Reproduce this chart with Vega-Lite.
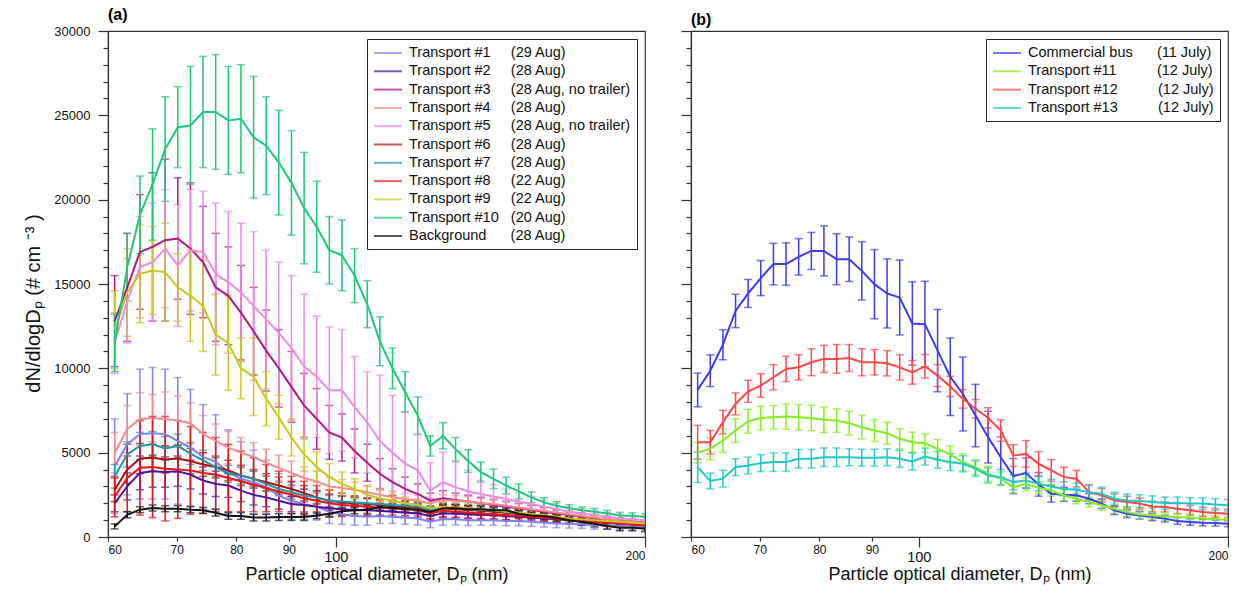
{
"$schema": "https://vega.github.io/schema/vega-lite/v6.json",
"padding": {"left": 23, "top": 6, "right": 0, "bottom": 0},
"config": {
  "font": "Liberation Sans",
  "view": {"stroke": "#333", "strokeWidth": 1.2},
  "axis": {"domainColor": "#333", "tickColor": "#333", "labelColor": "#111", "titleColor": "#111", "grid": false, "titleFontWeight": "normal", "labelFont": "Liberation Sans", "titleFont": "Liberation Sans", "domainWidth": 1.2, "tickWidth": 1.2},
  "legend": {"title": null, "orient": "top-right", "offset": 8, "fillColor": "white", "strokeColor": "#222", "padding": 6, "labelFontSize": 14.5, "labelFont": "Liberation Sans", "labelColor": "#111", "symbolType": "M-1,0L3,0", "symbolSize": 196, "symbolStrokeWidth": 2, "rowPadding": 3.3, "labelOffset": 20, "labelLimit": 400}
},
"spacing": 46,
"bounds": "flush",
"resolve": {"scale": {"color": "independent"}, "legend": {"color": "independent"}},
"datasets": {
"a": [
{"s":"T1","d":60.9,"v":4200,"e":2800},{"s":"T1","d":62.65,"v":5500,"e":3000},{"s":"T1","d":64.45,"v":6100,"e":3850},{"s":"T1","d":66.3,"v":6150,"e":3900},{"s":"T1","d":68.2,"v":6100,"e":3850},{"s":"T1","d":70.16,"v":5700,"e":3750},{"s":"T1","d":72.18,"v":5300,"e":3450},{"s":"T1","d":74.25,"v":4750,"e":3100},{"s":"T1","d":76.38,"v":4450,"e":2800},{"s":"T1","d":78.58,"v":3850,"e":2500},{"s":"T1","d":80.83,"v":3450,"e":2200},{"s":"T1","d":83.16,"v":3250,"e":1900},{"s":"T1","d":85.54,"v":2950,"e":1600},{"s":"T1","d":88,"v":2450,"e":1300},{"s":"T1","d":90.53,"v":2150,"e":1100},{"s":"T1","d":93.13,"v":1950,"e":900},{"s":"T1","d":95.8,"v":1800,"e":800},{"s":"T1","d":98.55,"v":1500,"e":700},{"s":"T1","d":101.38,"v":1350,"e":600},{"s":"T1","d":104.29,"v":1250,"e":550},{"s":"T1","d":107.29,"v":1200,"e":500},{"s":"T1","d":110.37,"v":1250,"e":450},{"s":"T1","d":113.54,"v":1200,"e":400},{"s":"T1","d":116.8,"v":1150,"e":400},{"s":"T1","d":120.15,"v":1100,"e":380},{"s":"T1","d":123.6,"v":900,"e":350},{"s":"T1","d":127.15,"v":1050,"e":350},{"s":"T1","d":130.8,"v":1050,"e":330},{"s":"T1","d":134.56,"v":1000,"e":320},{"s":"T1","d":138.42,"v":1000,"e":300},{"s":"T1","d":142.4,"v":1000,"e":300},{"s":"T1","d":146.49,"v":950,"e":280},{"s":"T1","d":150.69,"v":950,"e":280},{"s":"T1","d":155.02,"v":900,"e":270},{"s":"T1","d":159.47,"v":850,"e":260},{"s":"T1","d":164.05,"v":800,"e":250},{"s":"T1","d":168.76,"v":780,"e":250},{"s":"T1","d":173.6,"v":750,"e":240},{"s":"T1","d":178.59,"v":700,"e":230},{"s":"T1","d":183.71,"v":680,"e":220},{"s":"T1","d":188.99,"v":650,"e":220},{"s":"T1","d":194.42,"v":630,"e":210},{"s":"T1","d":200,"v":600,"e":200},
{"s":"T2","d":60.9,"v":2000,"e":500},{"s":"T2","d":62.65,"v":3000,"e":800},{"s":"T2","d":64.45,"v":3800,"e":1000},{"s":"T2","d":66.3,"v":3900,"e":950},{"s":"T2","d":68.2,"v":3850,"e":900},{"s":"T2","d":70.16,"v":3900,"e":900},{"s":"T2","d":72.18,"v":3700,"e":850},{"s":"T2","d":74.25,"v":3350,"e":800},{"s":"T2","d":76.38,"v":3150,"e":750},{"s":"T2","d":78.58,"v":3050,"e":700},{"s":"T2","d":80.83,"v":2750,"e":650},{"s":"T2","d":83.16,"v":2500,"e":600},{"s":"T2","d":85.54,"v":2350,"e":550},{"s":"T2","d":88,"v":2150,"e":500},{"s":"T2","d":90.53,"v":1950,"e":450},{"s":"T2","d":93.13,"v":1900,"e":420},{"s":"T2","d":95.8,"v":1800,"e":400},{"s":"T2","d":98.55,"v":1700,"e":380},{"s":"T2","d":101.38,"v":1650,"e":360},{"s":"T2","d":104.29,"v":1600,"e":340},{"s":"T2","d":107.29,"v":1580,"e":320},{"s":"T2","d":110.37,"v":1550,"e":300},{"s":"T2","d":113.54,"v":1500,"e":300},{"s":"T2","d":116.8,"v":1450,"e":290},{"s":"T2","d":120.15,"v":1400,"e":280},{"s":"T2","d":123.6,"v":1250,"e":260},{"s":"T2","d":127.15,"v":1400,"e":270},{"s":"T2","d":130.8,"v":1400,"e":260},{"s":"T2","d":134.56,"v":1350,"e":250},{"s":"T2","d":138.42,"v":1300,"e":250},{"s":"T2","d":142.4,"v":1300,"e":240},{"s":"T2","d":146.49,"v":1250,"e":230},{"s":"T2","d":150.69,"v":1200,"e":220},{"s":"T2","d":155.02,"v":1150,"e":210},{"s":"T2","d":159.47,"v":1100,"e":200},{"s":"T2","d":164.05,"v":1050,"e":200},{"s":"T2","d":168.76,"v":1000,"e":190},{"s":"T2","d":173.6,"v":950,"e":180},{"s":"T2","d":178.59,"v":900,"e":170},{"s":"T2","d":183.71,"v":850,"e":170},{"s":"T2","d":188.99,"v":800,"e":160},{"s":"T2","d":194.42,"v":750,"e":150},{"s":"T2","d":200,"v":700,"e":150},
{"s":"T3","d":60.9,"v":12800,"e":2700},{"s":"T3","d":62.65,"v":14800,"e":3200},{"s":"T3","d":64.45,"v":16900,"e":3400},{"s":"T3","d":66.3,"v":17200,"e":4400},{"s":"T3","d":68.2,"v":17600,"e":4800},{"s":"T3","d":70.16,"v":17700,"e":3600},{"s":"T3","d":72.18,"v":17100,"e":3900},{"s":"T3","d":74.25,"v":16300,"e":3300},{"s":"T3","d":76.38,"v":14800,"e":3200},{"s":"T3","d":78.58,"v":14300,"e":2900},{"s":"T3","d":80.83,"v":13300,"e":2800},{"s":"T3","d":83.16,"v":12200,"e":2600},{"s":"T3","d":85.54,"v":11050,"e":2400},{"s":"T3","d":88,"v":10000,"e":2300},{"s":"T3","d":90.53,"v":8900,"e":2100},{"s":"T3","d":93.13,"v":7800,"e":1900},{"s":"T3","d":95.8,"v":7000,"e":1800},{"s":"T3","d":98.55,"v":6200,"e":1600},{"s":"T3","d":101.38,"v":5900,"e":1400},{"s":"T3","d":104.29,"v":5100,"e":1300},{"s":"T3","d":107.29,"v":4400,"e":1100},{"s":"T3","d":110.37,"v":3750,"e":900},{"s":"T3","d":113.54,"v":3250,"e":800},{"s":"T3","d":116.8,"v":2850,"e":700},{"s":"T3","d":120.15,"v":2550,"e":600},{"s":"T3","d":123.6,"v":2150,"e":450},{"s":"T3","d":127.15,"v":2300,"e":450},{"s":"T3","d":130.8,"v":2200,"e":400},{"s":"T3","d":134.56,"v":2100,"e":380},{"s":"T3","d":138.42,"v":2000,"e":350},{"s":"T3","d":142.4,"v":1900,"e":330},{"s":"T3","d":146.49,"v":1800,"e":300},{"s":"T3","d":150.69,"v":1700,"e":280},{"s":"T3","d":155.02,"v":1600,"e":260},{"s":"T3","d":159.47,"v":1500,"e":240},{"s":"T3","d":164.05,"v":1400,"e":220},{"s":"T3","d":168.76,"v":1300,"e":200},{"s":"T3","d":173.6,"v":1200,"e":200},{"s":"T3","d":178.59,"v":1100,"e":190},{"s":"T3","d":183.71,"v":1000,"e":180},{"s":"T3","d":188.99,"v":950,"e":170},{"s":"T3","d":194.42,"v":900,"e":160},{"s":"T3","d":200,"v":850,"e":150},
{"s":"T4","d":60.9,"v":5000,"e":1200},{"s":"T4","d":62.65,"v":6400,"e":1400},{"s":"T4","d":64.45,"v":7000,"e":1550},{"s":"T4","d":66.3,"v":7050,"e":1400},{"s":"T4","d":68.2,"v":7000,"e":1600},{"s":"T4","d":70.16,"v":6900,"e":1450},{"s":"T4","d":72.18,"v":6750,"e":1200},{"s":"T4","d":74.25,"v":6100,"e":1100},{"s":"T4","d":76.38,"v":5700,"e":1000},{"s":"T4","d":78.58,"v":5300,"e":950},{"s":"T4","d":80.83,"v":5000,"e":900},{"s":"T4","d":83.16,"v":4750,"e":850},{"s":"T4","d":85.54,"v":4400,"e":800},{"s":"T4","d":88,"v":4100,"e":750},{"s":"T4","d":90.53,"v":3800,"e":700},{"s":"T4","d":93.13,"v":3500,"e":650},{"s":"T4","d":95.8,"v":3300,"e":600},{"s":"T4","d":98.55,"v":3000,"e":550},{"s":"T4","d":101.38,"v":2900,"e":500},{"s":"T4","d":104.29,"v":2800,"e":450},{"s":"T4","d":107.29,"v":2650,"e":400},{"s":"T4","d":110.37,"v":2500,"e":380},{"s":"T4","d":113.54,"v":2350,"e":350},{"s":"T4","d":116.8,"v":2250,"e":330},{"s":"T4","d":120.15,"v":2150,"e":320},{"s":"T4","d":123.6,"v":2000,"e":300},{"s":"T4","d":127.15,"v":2200,"e":320},{"s":"T4","d":130.8,"v":2150,"e":300},{"s":"T4","d":134.56,"v":2100,"e":290},{"s":"T4","d":138.42,"v":2000,"e":280},{"s":"T4","d":142.4,"v":1950,"e":270},{"s":"T4","d":146.49,"v":1850,"e":260},{"s":"T4","d":150.69,"v":1750,"e":250},{"s":"T4","d":155.02,"v":1650,"e":240},{"s":"T4","d":159.47,"v":1550,"e":230},{"s":"T4","d":164.05,"v":1450,"e":220},{"s":"T4","d":168.76,"v":1350,"e":210},{"s":"T4","d":173.6,"v":1250,"e":200},{"s":"T4","d":178.59,"v":1150,"e":200},{"s":"T4","d":183.71,"v":1050,"e":190},{"s":"T4","d":188.99,"v":950,"e":180},{"s":"T4","d":194.42,"v":900,"e":170},{"s":"T4","d":200,"v":850,"e":160},
{"s":"T5","d":60.9,"v":11500,"e":1800},{"s":"T5","d":62.65,"v":14000,"e":2500},{"s":"T5","d":64.45,"v":16000,"e":3000},{"s":"T5","d":66.3,"v":16300,"e":3500},{"s":"T5","d":68.2,"v":17100,"e":3500},{"s":"T5","d":70.16,"v":16100,"e":3600},{"s":"T5","d":72.18,"v":17000,"e":3600},{"s":"T5","d":74.25,"v":16900,"e":3600},{"s":"T5","d":76.38,"v":15600,"e":4200},{"s":"T5","d":78.58,"v":15100,"e":4200},{"s":"T5","d":80.83,"v":14500,"e":4100},{"s":"T5","d":83.16,"v":13700,"e":4400},{"s":"T5","d":85.54,"v":12900,"e":4100},{"s":"T5","d":88,"v":12100,"e":4200},{"s":"T5","d":90.53,"v":11200,"e":4300},{"s":"T5","d":93.13,"v":10100,"e":4300},{"s":"T5","d":95.8,"v":9500,"e":3600},{"s":"T5","d":98.55,"v":8700,"e":3750},{"s":"T5","d":101.38,"v":8700,"e":3600},{"s":"T5","d":104.29,"v":7700,"e":3000},{"s":"T5","d":107.29,"v":6800,"e":3000},{"s":"T5","d":110.37,"v":5700,"e":3900},{"s":"T5","d":113.54,"v":5000,"e":3400},{"s":"T5","d":116.8,"v":4350,"e":3100},{"s":"T5","d":120.15,"v":3950,"e":2100},{"s":"T5","d":123.6,"v":2750,"e":1650},{"s":"T5","d":127.15,"v":3250,"e":1800},{"s":"T5","d":130.8,"v":2950,"e":1500},{"s":"T5","d":134.56,"v":2700,"e":1250},{"s":"T5","d":138.42,"v":2550,"e":800},{"s":"T5","d":142.4,"v":2400,"e":700},{"s":"T5","d":146.49,"v":2250,"e":600},{"s":"T5","d":150.69,"v":2100,"e":500},{"s":"T5","d":155.02,"v":1950,"e":450},{"s":"T5","d":159.47,"v":1800,"e":400},{"s":"T5","d":164.05,"v":1650,"e":350},{"s":"T5","d":168.76,"v":1500,"e":300},{"s":"T5","d":173.6,"v":1400,"e":300},{"s":"T5","d":178.59,"v":1300,"e":280},{"s":"T5","d":183.71,"v":1200,"e":260},{"s":"T5","d":188.99,"v":1100,"e":250},{"s":"T5","d":194.42,"v":1050,"e":240},{"s":"T5","d":200,"v":1000,"e":230},
{"s":"T6","d":60.9,"v":2800,"e":700},{"s":"T6","d":62.65,"v":4000,"e":800},{"s":"T6","d":64.45,"v":4650,"e":900},{"s":"T6","d":66.3,"v":4700,"e":800},{"s":"T6","d":68.2,"v":4600,"e":800},{"s":"T6","d":70.16,"v":4650,"e":800},{"s":"T6","d":72.18,"v":4500,"e":750},{"s":"T6","d":74.25,"v":4300,"e":700},{"s":"T6","d":76.38,"v":4150,"e":650},{"s":"T6","d":78.58,"v":3950,"e":600},{"s":"T6","d":80.83,"v":3650,"e":600},{"s":"T6","d":83.16,"v":3450,"e":550},{"s":"T6","d":85.54,"v":3250,"e":500},{"s":"T6","d":88,"v":3050,"e":500},{"s":"T6","d":90.53,"v":2850,"e":450},{"s":"T6","d":93.13,"v":2600,"e":450},{"s":"T6","d":95.8,"v":2350,"e":400},{"s":"T6","d":98.55,"v":2150,"e":400},{"s":"T6","d":101.38,"v":2050,"e":380},{"s":"T6","d":104.29,"v":2000,"e":360},{"s":"T6","d":107.29,"v":1950,"e":350},{"s":"T6","d":110.37,"v":1900,"e":340},{"s":"T6","d":113.54,"v":1850,"e":330},{"s":"T6","d":116.8,"v":1800,"e":320},{"s":"T6","d":120.15,"v":1750,"e":300},{"s":"T6","d":123.6,"v":1550,"e":280},{"s":"T6","d":127.15,"v":1700,"e":300},{"s":"T6","d":130.8,"v":1650,"e":290},{"s":"T6","d":134.56,"v":1600,"e":280},{"s":"T6","d":138.42,"v":1550,"e":270},{"s":"T6","d":142.4,"v":1500,"e":260},{"s":"T6","d":146.49,"v":1450,"e":250},{"s":"T6","d":150.69,"v":1350,"e":240},{"s":"T6","d":155.02,"v":1300,"e":230},{"s":"T6","d":159.47,"v":1200,"e":220},{"s":"T6","d":164.05,"v":1100,"e":210},{"s":"T6","d":168.76,"v":1050,"e":200},{"s":"T6","d":173.6,"v":950,"e":200},{"s":"T6","d":178.59,"v":900,"e":190},{"s":"T6","d":183.71,"v":850,"e":180},{"s":"T6","d":188.99,"v":800,"e":170},{"s":"T6","d":194.42,"v":750,"e":160},{"s":"T6","d":200,"v":700,"e":150},
{"s":"T7","d":60.9,"v":3600,"e":700},{"s":"T7","d":62.65,"v":4900,"e":750},{"s":"T7","d":64.45,"v":5400,"e":800},{"s":"T7","d":66.3,"v":5500,"e":750},{"s":"T7","d":68.2,"v":5250,"e":700},{"s":"T7","d":70.16,"v":5400,"e":700},{"s":"T7","d":72.18,"v":4950,"e":650},{"s":"T7","d":74.25,"v":4550,"e":600},{"s":"T7","d":76.38,"v":4150,"e":550},{"s":"T7","d":78.58,"v":3750,"e":500},{"s":"T7","d":80.83,"v":3650,"e":500},{"s":"T7","d":83.16,"v":3450,"e":450},{"s":"T7","d":85.54,"v":3150,"e":450},{"s":"T7","d":88,"v":2850,"e":400},{"s":"T7","d":90.53,"v":2650,"e":400},{"s":"T7","d":93.13,"v":2450,"e":380},{"s":"T7","d":95.8,"v":2350,"e":360},{"s":"T7","d":98.55,"v":2150,"e":340},{"s":"T7","d":101.38,"v":2100,"e":320},{"s":"T7","d":104.29,"v":2050,"e":300},{"s":"T7","d":107.29,"v":2000,"e":300},{"s":"T7","d":110.37,"v":1950,"e":290},{"s":"T7","d":113.54,"v":1900,"e":280},{"s":"T7","d":116.8,"v":1850,"e":270},{"s":"T7","d":120.15,"v":1800,"e":260},{"s":"T7","d":123.6,"v":1600,"e":240},{"s":"T7","d":127.15,"v":1750,"e":250},{"s":"T7","d":130.8,"v":1700,"e":240},{"s":"T7","d":134.56,"v":1650,"e":230},{"s":"T7","d":138.42,"v":1600,"e":220},{"s":"T7","d":142.4,"v":1550,"e":220},{"s":"T7","d":146.49,"v":1500,"e":210},{"s":"T7","d":150.69,"v":1400,"e":200},{"s":"T7","d":155.02,"v":1350,"e":200},{"s":"T7","d":159.47,"v":1250,"e":190},{"s":"T7","d":164.05,"v":1150,"e":180},{"s":"T7","d":168.76,"v":1100,"e":170},{"s":"T7","d":173.6,"v":1000,"e":160},{"s":"T7","d":178.59,"v":950,"e":160},{"s":"T7","d":183.71,"v":900,"e":150},{"s":"T7","d":188.99,"v":850,"e":150},{"s":"T7","d":194.42,"v":800,"e":140},{"s":"T7","d":200,"v":750,"e":140},
{"s":"T8","d":60.9,"v":2400,"e":1200},{"s":"T8","d":62.65,"v":3500,"e":2000},{"s":"T8","d":64.45,"v":4100,"e":2800},{"s":"T8","d":66.3,"v":4150,"e":3000},{"s":"T8","d":68.2,"v":4050,"e":3100},{"s":"T8","d":70.16,"v":4000,"e":2900},{"s":"T8","d":72.18,"v":3950,"e":2600},{"s":"T8","d":74.25,"v":3800,"e":2400},{"s":"T8","d":76.38,"v":3700,"e":2200},{"s":"T8","d":78.58,"v":3500,"e":2000},{"s":"T8","d":80.83,"v":3300,"e":1800},{"s":"T8","d":83.16,"v":3100,"e":1600},{"s":"T8","d":85.54,"v":2900,"e":1400},{"s":"T8","d":88,"v":2700,"e":1200},{"s":"T8","d":90.53,"v":2500,"e":1100},{"s":"T8","d":93.13,"v":2300,"e":1000},{"s":"T8","d":95.8,"v":2150,"e":900},{"s":"T8","d":98.55,"v":2000,"e":800},{"s":"T8","d":101.38,"v":1900,"e":700},{"s":"T8","d":104.29,"v":1850,"e":600},{"s":"T8","d":107.29,"v":1800,"e":500},{"s":"T8","d":110.37,"v":1750,"e":450},{"s":"T8","d":113.54,"v":1700,"e":400},{"s":"T8","d":116.8,"v":1650,"e":380},{"s":"T8","d":120.15,"v":1600,"e":360},{"s":"T8","d":123.6,"v":1400,"e":330},{"s":"T8","d":127.15,"v":1550,"e":350},{"s":"T8","d":130.8,"v":1500,"e":330},{"s":"T8","d":134.56,"v":1450,"e":320},{"s":"T8","d":138.42,"v":1400,"e":300},{"s":"T8","d":142.4,"v":1350,"e":290},{"s":"T8","d":146.49,"v":1300,"e":280},{"s":"T8","d":150.69,"v":1250,"e":270},{"s":"T8","d":155.02,"v":1200,"e":260},{"s":"T8","d":159.47,"v":1150,"e":250},{"s":"T8","d":164.05,"v":1100,"e":240},{"s":"T8","d":168.76,"v":1000,"e":230},{"s":"T8","d":173.6,"v":950,"e":220},{"s":"T8","d":178.59,"v":900,"e":210},{"s":"T8","d":183.71,"v":850,"e":200},{"s":"T8","d":188.99,"v":800,"e":190},{"s":"T8","d":194.42,"v":750,"e":180},{"s":"T8","d":200,"v":700,"e":170},
{"s":"T9","d":60.9,"v":12300,"e":2300},{"s":"T9","d":62.65,"v":14500,"e":2600},{"s":"T9","d":64.45,"v":15600,"e":2900},{"s":"T9","d":66.3,"v":15800,"e":2600},{"s":"T9","d":68.2,"v":15700,"e":2900},{"s":"T9","d":70.16,"v":14800,"e":2000},{"s":"T9","d":72.18,"v":14300,"e":2700},{"s":"T9","d":74.25,"v":13700,"e":2700},{"s":"T9","d":76.38,"v":12000,"e":2400},{"s":"T9","d":78.58,"v":11500,"e":2800},{"s":"T9","d":80.83,"v":10000,"e":1800},{"s":"T9","d":83.16,"v":9500,"e":2300},{"s":"T9","d":85.54,"v":8200,"e":1600},{"s":"T9","d":88,"v":7100,"e":1300},{"s":"T9","d":90.53,"v":5900,"e":1100},{"s":"T9","d":93.13,"v":4900,"e":1000},{"s":"T9","d":95.8,"v":4150,"e":900},{"s":"T9","d":98.55,"v":3550,"e":800},{"s":"T9","d":101.38,"v":3150,"e":700},{"s":"T9","d":104.29,"v":2850,"e":600},{"s":"T9","d":107.29,"v":2500,"e":500},{"s":"T9","d":110.37,"v":2300,"e":450},{"s":"T9","d":113.54,"v":2150,"e":400},{"s":"T9","d":116.8,"v":2000,"e":380},{"s":"T9","d":120.15,"v":1900,"e":350},{"s":"T9","d":123.6,"v":1700,"e":300},{"s":"T9","d":127.15,"v":1800,"e":320},{"s":"T9","d":130.8,"v":1750,"e":300},{"s":"T9","d":134.56,"v":1700,"e":290},{"s":"T9","d":138.42,"v":1650,"e":280},{"s":"T9","d":142.4,"v":1600,"e":270},{"s":"T9","d":146.49,"v":1500,"e":260},{"s":"T9","d":150.69,"v":1450,"e":250},{"s":"T9","d":155.02,"v":1350,"e":240},{"s":"T9","d":159.47,"v":1300,"e":230},{"s":"T9","d":164.05,"v":1200,"e":220},{"s":"T9","d":168.76,"v":1100,"e":210},{"s":"T9","d":173.6,"v":1050,"e":200},{"s":"T9","d":178.59,"v":1000,"e":200},{"s":"T9","d":183.71,"v":950,"e":190},{"s":"T9","d":188.99,"v":900,"e":180},{"s":"T9","d":194.42,"v":850,"e":170},{"s":"T9","d":200,"v":800,"e":160},
{"s":"T10","d":60.9,"v":11500,"e":1700},{"s":"T10","d":62.65,"v":16000,"e":2000},{"s":"T10","d":64.45,"v":19100,"e":2300},{"s":"T10","d":66.3,"v":20900,"e":3300},{"s":"T10","d":68.2,"v":23000,"e":3100},{"s":"T10","d":70.16,"v":24300,"e":2400},{"s":"T10","d":72.18,"v":24400,"e":3500},{"s":"T10","d":74.25,"v":25200,"e":3300},{"s":"T10","d":76.38,"v":25200,"e":3400},{"s":"T10","d":78.58,"v":24700,"e":3200},{"s":"T10","d":80.83,"v":24800,"e":3200},{"s":"T10","d":83.16,"v":23700,"e":3600},{"s":"T10","d":85.54,"v":23200,"e":2900},{"s":"T10","d":88,"v":22200,"e":3100},{"s":"T10","d":90.53,"v":21000,"e":3100},{"s":"T10","d":93.13,"v":19500,"e":3300},{"s":"T10","d":95.8,"v":18400,"e":2700},{"s":"T10","d":98.55,"v":17000,"e":2000},{"s":"T10","d":101.38,"v":16700,"e":2100},{"s":"T10","d":104.29,"v":15500,"e":1600},{"s":"T10","d":107.29,"v":13800,"e":1400},{"s":"T10","d":110.37,"v":11600,"e":1450},{"s":"T10","d":113.54,"v":10000,"e":1200},{"s":"T10","d":116.8,"v":8600,"e":1200},{"s":"T10","d":120.15,"v":7200,"e":1100},{"s":"T10","d":123.6,"v":5400,"e":600},{"s":"T10","d":127.15,"v":6000,"e":780},{"s":"T10","d":130.8,"v":5200,"e":700},{"s":"T10","d":134.56,"v":4500,"e":670},{"s":"T10","d":138.42,"v":3850,"e":600},{"s":"T10","d":142.4,"v":3450,"e":580},{"s":"T10","d":146.49,"v":3050,"e":500},{"s":"T10","d":150.69,"v":2700,"e":450},{"s":"T10","d":155.02,"v":2350,"e":320},{"s":"T10","d":159.47,"v":2050,"e":280},{"s":"T10","d":164.05,"v":1850,"e":250},{"s":"T10","d":168.76,"v":1700,"e":220},{"s":"T10","d":173.6,"v":1580,"e":200},{"s":"T10","d":178.59,"v":1500,"e":200},{"s":"T10","d":183.71,"v":1400,"e":180},{"s":"T10","d":188.99,"v":1280,"e":180},{"s":"T10","d":194.42,"v":1250,"e":180},{"s":"T10","d":200,"v":1200,"e":180},
{"s":"BG","d":60.9,"v":630,"e":150},{"s":"BG","d":62.65,"v":1320,"e":180},{"s":"BG","d":64.45,"v":1620,"e":180},{"s":"BG","d":66.3,"v":1720,"e":180},{"s":"BG","d":68.2,"v":1680,"e":180},{"s":"BG","d":70.16,"v":1680,"e":180},{"s":"BG","d":72.18,"v":1620,"e":180},{"s":"BG","d":74.25,"v":1580,"e":180},{"s":"BG","d":76.38,"v":1440,"e":200},{"s":"BG","d":78.58,"v":1250,"e":200},{"s":"BG","d":80.83,"v":1250,"e":200},{"s":"BG","d":83.16,"v":1150,"e":200},{"s":"BG","d":85.54,"v":1150,"e":200},{"s":"BG","d":88,"v":1180,"e":200},{"s":"BG","d":90.53,"v":1180,"e":200},{"s":"BG","d":93.13,"v":1180,"e":200},{"s":"BG","d":95.8,"v":1280,"e":200},{"s":"BG","d":98.55,"v":1380,"e":200},{"s":"BG","d":101.38,"v":1520,"e":200},{"s":"BG","d":104.29,"v":1580,"e":200},{"s":"BG","d":107.29,"v":1620,"e":220},{"s":"BG","d":110.37,"v":1780,"e":220},{"s":"BG","d":113.54,"v":1740,"e":220},{"s":"BG","d":116.8,"v":1680,"e":220},{"s":"BG","d":120.15,"v":1620,"e":220},{"s":"BG","d":123.6,"v":1480,"e":220},{"s":"BG","d":127.15,"v":1700,"e":220},{"s":"BG","d":130.8,"v":1700,"e":220},{"s":"BG","d":134.56,"v":1650,"e":220},{"s":"BG","d":138.42,"v":1650,"e":220},{"s":"BG","d":142.4,"v":1580,"e":220},{"s":"BG","d":146.49,"v":1580,"e":220},{"s":"BG","d":150.69,"v":1380,"e":220},{"s":"BG","d":155.02,"v":1280,"e":200},{"s":"BG","d":159.47,"v":1240,"e":200},{"s":"BG","d":164.05,"v":1140,"e":200},{"s":"BG","d":168.76,"v":990,"e":200},{"s":"BG","d":173.6,"v":890,"e":200},{"s":"BG","d":178.59,"v":790,"e":200},{"s":"BG","d":183.71,"v":650,"e":180},{"s":"BG","d":188.99,"v":550,"e":180},{"s":"BG","d":194.42,"v":550,"e":180},{"s":"BG","d":200,"v":500,"e":180}
],
"b": [
{"s":"Bus","d":60.9,"v":8720,"e":1000},{"s":"Bus","d":62.65,"v":9860,"e":940},{"s":"Bus","d":64.45,"v":11400,"e":890},{"s":"Bus","d":66.3,"v":13400,"e":990},{"s":"Bus","d":68.2,"v":14440,"e":830},{"s":"Bus","d":70.16,"v":15350,"e":1040},{"s":"Bus","d":72.18,"v":16180,"e":1230},{"s":"Bus","d":74.25,"v":16180,"e":1260},{"s":"Bus","d":76.38,"v":16610,"e":1080},{"s":"Bus","d":78.58,"v":16960,"e":1100},{"s":"Bus","d":80.83,"v":16960,"e":1480},{"s":"Bus","d":83.16,"v":16470,"e":1510},{"s":"Bus","d":85.54,"v":16470,"e":1320},{"s":"Bus","d":88,"v":15780,"e":1730},{"s":"Bus","d":90.53,"v":14990,"e":2050},{"s":"Bus","d":93.13,"v":14440,"e":2050},{"s":"Bus","d":95.8,"v":14200,"e":2220},{"s":"Bus","d":98.55,"v":12660,"e":2470},{"s":"Bus","d":101.38,"v":12620,"e":2540},{"s":"Bus","d":104.29,"v":11050,"e":2440},{"s":"Bus","d":107.29,"v":9500,"e":2300},{"s":"Bus","d":110.37,"v":8480,"e":2190},{"s":"Bus","d":113.54,"v":7200,"e":1850},{"s":"Bus","d":116.8,"v":5920,"e":1530},{"s":"Bus","d":120.15,"v":4730,"e":1200},{"s":"Bus","d":123.6,"v":3610,"e":1040},{"s":"Bus","d":127.15,"v":3790,"e":900},{"s":"Bus","d":130.8,"v":3120,"e":700},{"s":"Bus","d":134.56,"v":2570,"e":500},{"s":"Bus","d":138.42,"v":2510,"e":400},{"s":"Bus","d":142.4,"v":2470,"e":350},{"s":"Bus","d":146.49,"v":2270,"e":300},{"s":"Bus","d":150.69,"v":1980,"e":280},{"s":"Bus","d":155.02,"v":1580,"e":250},{"s":"Bus","d":159.47,"v":1380,"e":230},{"s":"Bus","d":164.05,"v":1280,"e":220},{"s":"Bus","d":168.76,"v":1180,"e":210},{"s":"Bus","d":173.6,"v":1090,"e":200},{"s":"Bus","d":178.59,"v":950,"e":200},{"s":"Bus","d":183.71,"v":890,"e":190},{"s":"Bus","d":188.99,"v":850,"e":190},{"s":"Bus","d":194.42,"v":830,"e":180},{"s":"Bus","d":200,"v":790,"e":180},
{"s":"T11","d":60.9,"v":5000,"e":600},{"s":"T11","d":62.65,"v":5230,"e":650},{"s":"T11","d":64.45,"v":5720,"e":700},{"s":"T11","d":66.3,"v":6310,"e":700},{"s":"T11","d":68.2,"v":6860,"e":700},{"s":"T11","d":70.16,"v":7060,"e":700},{"s":"T11","d":72.18,"v":7100,"e":700},{"s":"T11","d":74.25,"v":7140,"e":750},{"s":"T11","d":76.38,"v":7100,"e":750},{"s":"T11","d":78.58,"v":7060,"e":750},{"s":"T11","d":80.83,"v":6950,"e":750},{"s":"T11","d":83.16,"v":6900,"e":700},{"s":"T11","d":85.54,"v":6750,"e":700},{"s":"T11","d":88,"v":6510,"e":700},{"s":"T11","d":90.53,"v":6310,"e":650},{"s":"T11","d":93.13,"v":6150,"e":650},{"s":"T11","d":95.8,"v":5820,"e":600},{"s":"T11","d":98.55,"v":5620,"e":600},{"s":"T11","d":101.38,"v":5560,"e":550},{"s":"T11","d":104.29,"v":5230,"e":550},{"s":"T11","d":107.29,"v":4900,"e":500},{"s":"T11","d":110.37,"v":4440,"e":500},{"s":"T11","d":113.54,"v":4140,"e":450},{"s":"T11","d":116.8,"v":3750,"e":450},{"s":"T11","d":120.15,"v":3460,"e":400},{"s":"T11","d":123.6,"v":2960,"e":350},{"s":"T11","d":127.15,"v":3120,"e":380},{"s":"T11","d":130.8,"v":2920,"e":350},{"s":"T11","d":134.56,"v":2760,"e":330},{"s":"T11","d":138.42,"v":2470,"e":320},{"s":"T11","d":142.4,"v":2270,"e":300},{"s":"T11","d":146.49,"v":2070,"e":290},{"s":"T11","d":150.69,"v":1880,"e":280},{"s":"T11","d":155.02,"v":1680,"e":270},{"s":"T11","d":159.47,"v":1480,"e":260},{"s":"T11","d":164.05,"v":1340,"e":250},{"s":"T11","d":168.76,"v":1280,"e":240},{"s":"T11","d":173.6,"v":1220,"e":230},{"s":"T11","d":178.59,"v":1180,"e":220},{"s":"T11","d":183.71,"v":1150,"e":220},{"s":"T11","d":188.99,"v":1090,"e":210},{"s":"T11","d":194.42,"v":1050,"e":200},{"s":"T11","d":200,"v":1030,"e":200},
{"s":"T12","d":60.9,"v":5620,"e":1000},{"s":"T12","d":62.65,"v":5620,"e":700},{"s":"T12","d":64.45,"v":6810,"e":700},{"s":"T12","d":66.3,"v":7890,"e":650},{"s":"T12","d":68.2,"v":8640,"e":650},{"s":"T12","d":70.16,"v":8980,"e":700},{"s":"T12","d":72.18,"v":9470,"e":750},{"s":"T12","d":74.25,"v":9960,"e":750},{"s":"T12","d":76.38,"v":10060,"e":750},{"s":"T12","d":78.58,"v":10360,"e":800},{"s":"T12","d":80.83,"v":10560,"e":800},{"s":"T12","d":83.16,"v":10560,"e":850},{"s":"T12","d":85.54,"v":10610,"e":800},{"s":"T12","d":88,"v":10360,"e":800},{"s":"T12","d":90.53,"v":10360,"e":750},{"s":"T12","d":93.13,"v":10300,"e":750},{"s":"T12","d":95.8,"v":10060,"e":750},{"s":"T12","d":98.55,"v":9760,"e":700},{"s":"T12","d":101.38,"v":10120,"e":700},{"s":"T12","d":104.29,"v":9570,"e":650},{"s":"T12","d":107.29,"v":8930,"e":600},{"s":"T12","d":110.37,"v":8190,"e":550},{"s":"T12","d":113.54,"v":7600,"e":550},{"s":"T12","d":116.8,"v":7070,"e":600},{"s":"T12","d":120.15,"v":6310,"e":640},{"s":"T12","d":123.6,"v":4830,"e":640},{"s":"T12","d":127.15,"v":4930,"e":790},{"s":"T12","d":130.8,"v":4340,"e":720},{"s":"T12","d":134.56,"v":3950,"e":640},{"s":"T12","d":138.42,"v":3550,"e":590},{"s":"T12","d":142.4,"v":3460,"e":490},{"s":"T12","d":146.49,"v":2660,"e":440},{"s":"T12","d":150.69,"v":2470,"e":400},{"s":"T12","d":155.02,"v":2170,"e":380},{"s":"T12","d":159.47,"v":2070,"e":350},{"s":"T12","d":164.05,"v":1980,"e":330},{"s":"T12","d":168.76,"v":1810,"e":320},{"s":"T12","d":173.6,"v":1780,"e":300},{"s":"T12","d":178.59,"v":1680,"e":300},{"s":"T12","d":183.71,"v":1580,"e":290},{"s":"T12","d":188.99,"v":1480,"e":280},{"s":"T12","d":194.42,"v":1420,"e":270},{"s":"T12","d":200,"v":1380,"e":260},
{"s":"T13","d":60.9,"v":4140,"e":900},{"s":"T13","d":62.65,"v":3320,"e":470},{"s":"T13","d":64.45,"v":3460,"e":500},{"s":"T13","d":66.3,"v":4140,"e":500},{"s":"T13","d":68.2,"v":4240,"e":500},{"s":"T13","d":70.16,"v":4380,"e":500},{"s":"T13","d":72.18,"v":4440,"e":550},{"s":"T13","d":74.25,"v":4440,"e":550},{"s":"T13","d":76.38,"v":4640,"e":550},{"s":"T13","d":78.58,"v":4640,"e":550},{"s":"T13","d":80.83,"v":4730,"e":550},{"s":"T13","d":83.16,"v":4730,"e":550},{"s":"T13","d":85.54,"v":4730,"e":500},{"s":"T13","d":88,"v":4700,"e":500},{"s":"T13","d":90.53,"v":4700,"e":500},{"s":"T13","d":93.13,"v":4730,"e":500},{"s":"T13","d":95.8,"v":4640,"e":500},{"s":"T13","d":98.55,"v":4480,"e":500},{"s":"T13","d":101.38,"v":4770,"e":500},{"s":"T13","d":104.29,"v":4580,"e":500},{"s":"T13","d":107.29,"v":4440,"e":500},{"s":"T13","d":110.37,"v":4340,"e":480},{"s":"T13","d":113.54,"v":4050,"e":460},{"s":"T13","d":116.8,"v":3650,"e":450},{"s":"T13","d":120.15,"v":3550,"e":450},{"s":"T13","d":123.6,"v":3250,"e":440},{"s":"T13","d":127.15,"v":3350,"e":440},{"s":"T13","d":130.8,"v":3160,"e":430},{"s":"T13","d":134.56,"v":3000,"e":420},{"s":"T13","d":138.42,"v":2860,"e":410},{"s":"T13","d":142.4,"v":2800,"e":400},{"s":"T13","d":146.49,"v":2660,"e":400},{"s":"T13","d":150.69,"v":2570,"e":390},{"s":"T13","d":155.02,"v":2270,"e":380},{"s":"T13","d":159.47,"v":2170,"e":380},{"s":"T13","d":164.05,"v":2130,"e":370},{"s":"T13","d":168.76,"v":2070,"e":370},{"s":"T13","d":173.6,"v":2010,"e":360},{"s":"T13","d":178.59,"v":2010,"e":360},{"s":"T13","d":183.71,"v":1980,"e":350},{"s":"T13","d":188.99,"v":1980,"e":350},{"s":"T13","d":194.42,"v":1930,"e":350},{"s":"T13","d":200,"v":1880,"e":340}
]
},
"hconcat": [
{
  "width": 537, "height": 506,
  "title": {"text": "(a)", "anchor": "start", "frame": "group", "fontSize": 16, "fontWeight": "bold", "offset": 2, "color": "#000", "font": "Liberation Sans"},
  "data": {"name": "a"},
  "encoding": {
    "x": {"field": "d", "type": "quantitative", "scale": {"type": "log", "domain": [60, 200], "nice": false},
      "axis": {"values": [60, 70, 80, 90, 100, 200], "format": "d", "labelFontSize": {"condition": {"test": "datum.value == 100", "value": 14.5}, "value": 12}, "labelPadding": 3, "tickSize": {"condition": {"test": "datum.value >= 100", "value": 10}, "value": 4}, "title": "Particle optical diameter, Dₚ (nm)", "titleFontSize": 18, "titlePadding": 2}},
    "y": {"field": "v", "type": "quantitative", "scale": {"domain": [0, 30000], "nice": false},
      "axis": {"values": [0,1000,2000,3000,4000,5000,6000,7000,8000,9000,10000,11000,12000,13000,14000,15000,16000,17000,18000,19000,20000,21000,22000,23000,24000,25000,26000,27000,28000,29000,30000], "format": "d", "labelExpr": "datum.value % 5000 === 0 ? datum.label : ''", "labelOverlap": false, "tickSize": {"condition": {"test": "datum.value % 5000 === 0", "value": 10}, "value": 5}, "labelFontSize": 13, "labelPadding": 8, "title": "dN/dlogDₚ (# cm ⁻³ )", "titleFontSize": 20, "titlePadding": 10, "titleY": 272}},
    "color": {"field": "s", "type": "nominal",
      "scale": {"domain": ["T1","T2","T3","T4","T5","T6","T7","T8","T9","T10","BG"], "range": ["#8080f8","#4b0f99","#b4148c","#f58a8a","#f08ae6","#b40a0a","#1e96a5","#e61414","#c8c81e","#1ec878","#141414"]},
      "legend": {"labelExpr": "datum.value=='T1'?'Transport #1\u00a0\u00a0\u00a0\u00a0\u00a0(29 Aug)':datum.value=='T2'?'Transport #2\u00a0\u00a0\u00a0\u00a0\u00a0(28 Aug)':datum.value=='T3'?'Transport #3\u00a0\u00a0\u00a0\u00a0\u00a0(28 Aug, no trailer)':datum.value=='T4'?'Transport #4\u00a0\u00a0\u00a0\u00a0\u00a0(28 Aug)':datum.value=='T5'?'Transport #5\u00a0\u00a0\u00a0\u00a0\u00a0(28 Aug, no trailer)':datum.value=='T6'?'Transport #6\u00a0\u00a0\u00a0\u00a0\u00a0(28 Aug)':datum.value=='T7'?'Transport #7\u00a0\u00a0\u00a0\u00a0\u00a0(28 Aug)':datum.value=='T8'?'Transport #8\u00a0\u00a0\u00a0\u00a0\u00a0(22 Aug)':datum.value=='T9'?'Transport #9\u00a0\u00a0\u00a0\u00a0\u00a0(22 Aug)':datum.value=='T10'?'Transport #10\u00a0\u00a0\u00a0(20 Aug)':'Background\u00a0\u00a0\u00a0\u00a0\u00a0\u00a0(28 Aug)'"}}
  },
  "layer": [
    {"mark": {"type": "errorbar", "ticks": {"size": 8, "thickness": 1.5}, "thickness": 1.5, "clip": true}, "encoding": {"yError": {"field": "e"}}},
    {"mark": {"type": "line", "strokeWidth": 2, "clip": true}}
  ]
},
{
  "width": 537, "height": 506,
  "title": {"text": "(b)", "anchor": "start", "frame": "group", "fontSize": 16, "fontWeight": "bold", "offset": 2, "color": "#000", "font": "Liberation Sans"},
  "data": {"name": "b"},
  "encoding": {
    "x": {"field": "d", "type": "quantitative", "scale": {"type": "log", "domain": [60, 200], "nice": false},
      "axis": {"values": [60, 70, 80, 90, 100, 200], "format": "d", "labelFontSize": {"condition": {"test": "datum.value == 100", "value": 14.5}, "value": 12}, "labelPadding": 3, "tickSize": {"condition": {"test": "datum.value >= 100", "value": 10}, "value": 4}, "title": "Particle optical diameter, Dₚ (nm)", "titleFontSize": 18, "titlePadding": 2}},
    "y": {"field": "v", "type": "quantitative", "scale": {"domain": [0, 30000], "nice": false},
      "axis": {"values": [0,1000,2000,3000,4000,5000,6000,7000,8000,9000,10000,11000,12000,13000,14000,15000,16000,17000,18000,19000,20000,21000,22000,23000,24000,25000,26000,27000,28000,29000,30000], "labels": false, "title": null, "tickSize": {"condition": {"test": "datum.value % 5000 === 0", "value": 10}, "value": 5}}},
    "color": {"field": "s", "type": "nominal",
      "scale": {"domain": ["Bus","T11","T12","T13"], "range": ["#3c3cf0","#82f01e","#ff4646","#1ec8c8"]},
      "legend": {"labelExpr": "datum.value=='Bus'?'Commercial bus\u00a0\u00a0\u00a0\u00a0\u00a0\u00a0(11 July)':datum.value=='T11'?'Transport #11\u00a0\u00a0\u00a0\u00a0\u00a0\u00a0\u00a0\u00a0\u00a0\u00a0(12 July)':datum.value=='T12'?'Transport #12\u00a0\u00a0\u00a0\u00a0\u00a0\u00a0\u00a0\u00a0\u00a0\u00a0(12 July)':'Transport #13\u00a0\u00a0\u00a0\u00a0\u00a0\u00a0\u00a0\u00a0\u00a0\u00a0(12 July)'"}}
  },
  "layer": [
    {"mark": {"type": "errorbar", "ticks": {"size": 8, "thickness": 1.5}, "thickness": 1.5, "clip": true}, "encoding": {"yError": {"field": "e"}}},
    {"mark": {"type": "line", "strokeWidth": 2, "clip": true}}
  ]
}
]
}
